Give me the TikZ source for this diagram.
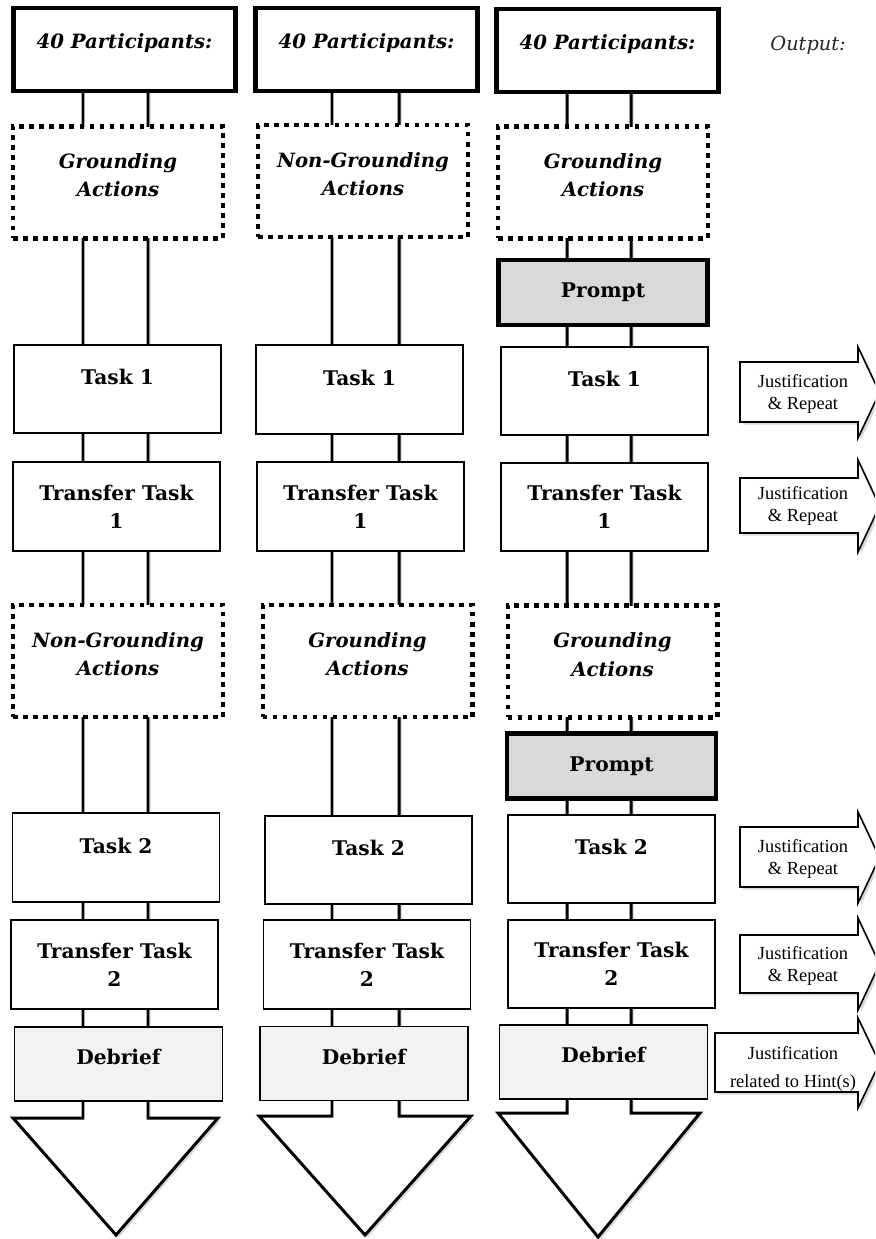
\documentclass[tikz,border=0pt]{standalone}
\usepackage{fontspec}
\setmainfont{DejaVu Serif}
\newfontfamily\justfont{Liberation Serif}
\usetikzlibrary{shadows}

\tikzset{
  box/.style={draw, line width=1.1pt, fill=white, align=center, inner sep=0pt,
    minimum width=4.14cm, minimum height=1.77cm,
    font=\fontsize{11.5pt}{16pt}\selectfont\bfseries},
  taskbox/.style={box, text depth=13.6pt},
  headbox/.style={box, line width=2.4pt, minimum width=4.44cm, minimum height=1.66cm,
    text depth=9.9pt, font=\fontsize{11.2pt}{16pt}\selectfont\bfseries\itshape},
  dotbox/.style={box, line width=2.3pt, dash pattern=on 2.7pt off 3pt,
    minimum width=4.2cm, minimum height=2.24cm, text depth=8pt,
    font=\fontsize{11.2pt}{16pt}\selectfont\bfseries\itshape},
  promptbox/.style={box, line width=2.8pt, fill=black!15, minimum width=4.18cm, minimum height=1.3cm},
  debriefbox/.style={box, fill=black!5, minimum width=4.16cm, minimum height=1.48cm, text depth=8pt},
  bigarrow/.style={line width=1.7pt, fill=white, line join=miter,
    drop shadow={shadow xshift=1.5pt, shadow yshift=-1.5pt, opacity=0.3}},
  outarrow/.style={line width=0.9pt, fill=white,
    drop shadow={shadow xshift=1.5pt, shadow yshift=-1.5pt, opacity=0.3}},
  just/.style={align=center, inner sep=0pt, font=\justfont\fontsize{10.5pt}{12.5pt}\selectfont}
}

\begin{document}
\begin{tikzpicture}[x=0.02cm, y=-0.02cm]
      \clip (0,0) rectangle (875,1239);
%% big arrows behind the columns
      \draw [bigarrow] (83,60) -- (83,1118) -- (13,1118) -- (116,1235) -- (218,1118) -- (148,1118) -- (148,60);
      \draw [bigarrow] (332,60) -- (332,1116) -- (259,1116) -- (365,1235) -- (471,1116) -- (399,1116) -- (399,60);
      \draw [bigarrow] (567,60) -- (567,1113) -- (498,1113) -- (598,1237) -- (700,1113) -- (631,1113) -- (631,60);
%%
      \node (PA) [headbox] at (124.5,49.5) {40 Participants:};
      \node (GA) [dotbox] at (118,182.5) {Grounding\\Actions};
      \node (TA1) [taskbox] at (117.5,389) {Task 1};
      \node (XA1) [box] at (116.5,506.5) {Transfer Task\\1};
      \node (NA) [dotbox] at (118,661) {Non-Grounding\\Actions};
      \node (TA2) [taskbox] at (116,857.5) {Task 2};
      \node (XA2) [box] at (114.5,964.5) {Transfer Task\\2};
      \node (DA) [debriefbox] at (118.5,1064) {Debrief};
%%
      \node (PB) [headbox] at (366.5,49.5) {40 Participants:};
      \node (NB) [dotbox] at (363,181) {Non-Grounding\\Actions};
      \node (TB1) [taskbox] at (359.5,389.5) {Task 1};
      \node (XB1) [box] at (360.5,506.5) {Transfer Task\\1};
      \node (GB) [dotbox] at (367.5,661) {Grounding\\Actions};
      \node (TB2) [taskbox] at (368.5,860) {Task 2};
      \node (XB2) [box] at (367,964.5) {Transfer Task\\2};
      \node (DB) [debriefbox] at (364,1063.5) {Debrief};
%%
      \node (PC) [headbox] at (607.5,50.5) {40 Participants:};
      \node (GC1) [dotbox] at (603,182.5) {Grounding\\Actions};
      \node (QC1) [promptbox] at (603,292.5) {Prompt};
      \node (TC1) [taskbox] at (604.5,391) {Task 1};
      \node (XC1) [box] at (604.5,507) {Transfer Task\\1};
      \node (GC2) [dotbox] at (612.5,661.5) {Grounding\\Actions};
      \node (QC2) [promptbox] at (611.5,766) {Prompt};
      \node (TC2) [taskbox] at (611.5,859) {Task 2};
      \node (XC2) [box] at (611.5,964) {Transfer Task\\2};
      \node (DC) [debriefbox] at (603.5,1062) {Debrief};
%% output arrows
      \node (Out) [text=black!85, font=\fontsize{11pt}{13pt}\selectfont\itshape] at (808,45) {Output:};
      \draw [outarrow] (740,362) -- (858,362) -- (858,347) -- (879.5,392.5) -- (858,438) -- (858,422) -- (740,422) -- cycle;
      \draw [outarrow] (740,478) -- (858,478) -- (858,460) -- (879.5,506) -- (858,552) -- (858,533) -- (740,533) -- cycle;
      \draw [outarrow] (740,827) -- (858,827) -- (858,812) -- (879.5,857.5) -- (858,903) -- (858,887) -- (740,887) -- cycle;
      \draw [outarrow] (740,935) -- (858,935) -- (858,918) -- (879.5,964) -- (858,1010) -- (858,993) -- (740,993) -- cycle;
      \draw [outarrow] (715,1033) -- (858,1033) -- (858,1018) -- (879.5,1063) -- (858,1108) -- (858,1092) -- (715,1092) -- cycle;
      \node (J1) [just] at (803,394) {Justification\\\& Repeat};
      \node (J2) [just] at (803,506) {Justification\\\& Repeat};
      \node (J3) [just] at (803,859) {Justification\\\& Repeat};
      \node (J4) [just] at (803,966) {Justification\\\& Repeat};
      \node (J5) [just] at (793,1069) {Justification\\[3.5pt]related to Hint(s)};
    \end{tikzpicture}
\end{document}
